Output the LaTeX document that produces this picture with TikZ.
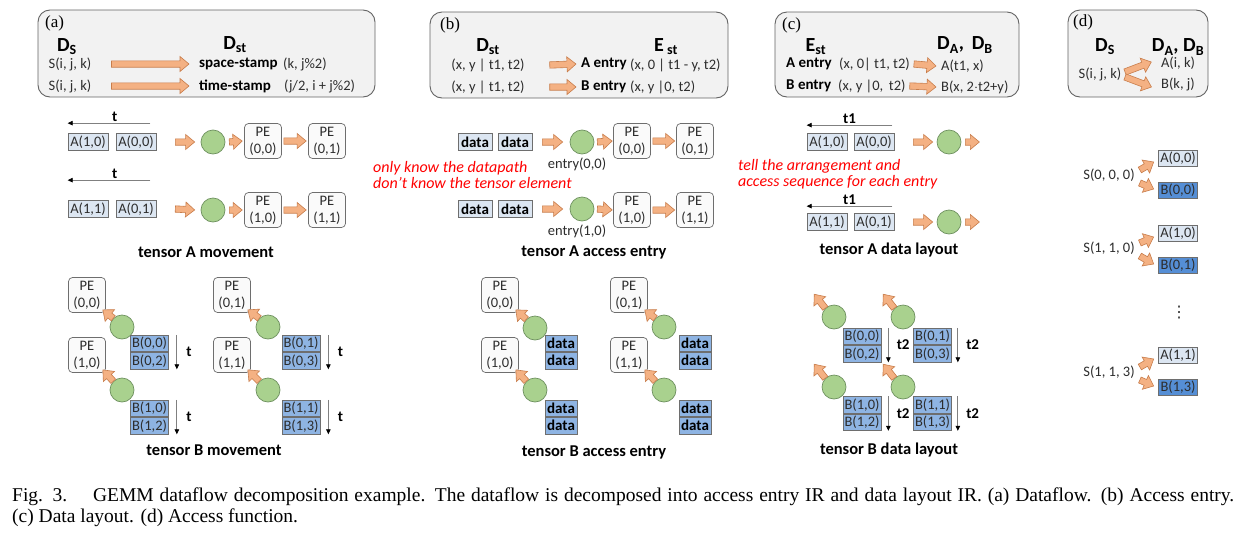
\documentclass[tikz,border=0pt]{standalone}
\usepackage{fontspec}
\setmainfont{Carlito}
\newfontfamily\seriffont{Liberation Serif}
\newfontfamily\symfont{DejaVu Sans}
\usetikzlibrary{positioning}
\usetikzlibrary{calc}
\usetikzlibrary{arrows.meta}

\definecolor{panelfill}{RGB}{242,242,242}
\definecolor{panelline}{RGB}{100,100,100}
\definecolor{boxline}{RGB}{110,110,110}
\definecolor{pefill}{RGB}{250,250,250}
\definecolor{lightA}{RGB}{220,230,242}
\definecolor{midB}{RGB}{142,180,227}
\definecolor{deepB}{RGB}{85,142,213}
\definecolor{greenfill}{RGB}{169,209,142}
\definecolor{greenline}{RGB}{110,145,95}
\definecolor{arrowfill}{RGB}{244,177,131}
\definecolor{arrowline}{RGB}{200,125,75}
\definecolor{textcol}{RGB}{45,45,45}
\definecolor{notered}{RGB}{255,0,0}

\newcommand\ftxt{\fontsize{14.5}{17}\selectfont}
\newcommand\fbld{\fontsize{15}{17}\selectfont\bfseries}
\newcommand\ftitle{\fontsize{16.5}{19}\selectfont\bfseries}
\newcommand\fhead{\fontsize{20}{22}\selectfont\bfseries}
\newcommand\fpanel{\seriffont\fontsize{17}{19}\selectfont}
\newcommand\fnote{\fontsize{16}{16.5}\selectfont\itshape}
\newcommand\fcap{\seriffont\fontsize{19.5}{21}\selectfont}

\tikzset{
  panel/.style={draw=panelline, fill=panelfill, rounded corners=12pt, line width=0.9pt},
  pe/.style={draw=boxline, fill=pefill, rounded corners=4pt, line width=0.7pt,
    minimum width=37pt, minimum height=35pt, inner sep=0pt, align=center, font=\ftxt, text=textcol},
  abox/.style={draw=boxline, fill=lightA, line width=0.7pt, minimum width=40pt,
    minimum height=17pt, inner sep=0pt, font=\ftxt, text=textcol},
  bbox/.style={abox, fill=midB, minimum width=38pt, minimum height=16.5pt},
  dabox/.style={abox, minimum width=39pt, minimum height=16pt},
  dbox/.style={dabox, fill=deepB},
  datab/.style={abox, minimum width=34pt, font=\fbld, text=black},
  datbb/.style={datab, fill=midB, minimum width=32pt, minimum height=16.5pt},
  circ/.style={circle, draw=greenline, fill=greenfill, line width=0.7pt, minimum size=24pt, inner sep=0pt},
  plabel/.style={anchor=west, inner sep=0pt, font=\fpanel, text=black},
  head/.style={inner sep=1pt, font=\fhead, text=black},
  lbl/.style={inner sep=1pt, font=\ftxt, text=textcol},
  lblw/.style={lbl, anchor=west},
  key/.style={lblw, font=\fbld, text=black},
  title/.style={inner sep=1pt, font=\ftitle, text=black},
  tlab/.style={inner sep=1pt, font=\fbld, text=black},
  note/.style={anchor=west, align=left, inner sep=0pt, font=\fnote, text=notered},
  capline/.style={anchor=west, inner sep=0pt, font=\fcap, text=black},
  tarrow/.style={draw=gray, line width=0.8pt, -{Triangle[length=5pt, width=4.5pt, color=black]}},
  fat/.style={draw=arrowline, fill=arrowfill, line width=0.6pt,
    to path={let \p1=(\tikztostart), \p2=(\tikztotarget),
      \n1={atan2(\y2-\y1,\x2-\x1)}, \n2={veclen(\x2-\x1,\y2-\y1)} in
      ([shift={(\p1)},rotate=\n1]0pt,-3.2pt) -- ([shift={(\p1)},rotate=\n1]\n2-9pt,-3.2pt)
      -- ([shift={(\p1)},rotate=\n1]\n2-9pt,-7.5pt) -- ([shift={(\p1)},rotate=\n1]\n2,0pt)
      -- ([shift={(\p1)},rotate=\n1]\n2-9pt,7.5pt) -- ([shift={(\p1)},rotate=\n1]\n2-9pt,3.2pt)
      -- ([shift={(\p1)},rotate=\n1]0pt,3.2pt) -- cycle}}
}

\begin{document}
\begin{tikzpicture}[x=1pt, y=-1pt]

            \useasboundingbox[fill=white] (0,0) rectangle (1254,544);

            % (a) dataflow
            \draw[panel] (38,10) rectangle (375,97);
            \path   (45,23) node (la) [plabel] {(a)}
                    (67,47) node (dsa) [head] {D\textsubscript{S}}
                    (235,45) node (dsta) [head] {D\textsubscript{st}}
                    (70,64) node (sa1) [lbl] {S(i, j, k)}
                    (70,86) node (sa2) [lbl] {S(i, j, k)}
                    (198,64) node (sps) [key] {space-stamp}
                    (282,64) node (spv) [lblw] {(k, j\%2)}
                    (198,86) node (tms) [key] {time-stamp}
                    (283,86) node (tmv) [lblw] {(j/2, i + j\%2)};

            \draw[fat] ([xshift=19]sa1.east) to ([xshift=-9]sps.west);
            \draw[fat] ([xshift=19]sa2.east) to ([xshift=-9]tms.west);

            \path   (88,142) node (a10) [abox] {A(1,0)}
                    (136,142) node (a00) [abox] {A(0,0)}
                    (213,142) node (ca1) [circ] {}
                    (263,141) node (pa00) [pe] {PE\\(0,0)}
                    (327,141) node (pa01) [pe] {PE\\(0,1)}
                    (88,209) node (a11) [abox] {A(1,1)}
                    (136,209) node (a01) [abox] {A(0,1)}
                    (213,210) node (ca2) [circ] {}
                    (263,210) node (pa10) [pe] {PE\\(1,0)}
                    (327,210) node (pa11) [pe] {PE\\(1,1)}
                    (206,252) node (ta) [title] {tensor A movement};

            \draw[tarrow] ([shift={(-6,-10)}]a00.north east) -- ([yshift=10]a10.north west) node[tlab, pos=0.43, above] {t};
            \draw[tarrow] ([shift={(-6,-20)}]a01.north east) -- ([yshift=20]a11.north west) node[tlab, pos=0.43, above] {t};
            \draw[fat] ([xshift=19]a00.east) to ([xshift=-6]ca1.west);
            \draw[fat] ([xshift=4]ca1.east) to ([xshift=-2]pa00.west);
            \draw[fat] ([xshift=2]pa00.east) to ([xshift=-2]pa01.west);
            \draw[fat] ([xshift=19]a01.east) to ([xshift=-6]ca2.west);
            \draw[fat] ([xshift=4]ca2.east) to ([xshift=-2]pa10.west);
            \draw[fat] ([xshift=2]pa10.east) to ([xshift=-2]pa11.west);

            \path   (87,295) node (pb00) [pe] {PE\\(0,0)}
                    (122,327) node (cb1) [circ] {}
                    (149.5,343.5) node (b00) [bbox] {B(0,0)}
                    (87,355) node (pb10) [pe] {PE\\(1,0)}
                    (122,390) node (cb2) [circ] {}
                    (149.5,408.5) node (b10) [bbox] {B(1,0)}
                    (232,295) node (pb01) [pe] {PE\\(0,1)}
                    (268,327) node (cb3) [circ] {}
                    (301,343.5) node (b01) [bbox] {B(0,1)}
                    (232,355) node (pb11) [pe] {PE\\(1,1)}
                    (268,390) node (cb4) [circ] {}
                    (301,408.5) node (b11) [bbox] {B(1,1)}
                    (214,450) node (tb) [title] {tensor B movement};
            \node (b02) [bbox, below=0pt of b00] {B(0,2)};
            \node (b12) [bbox, below=0pt of b10] {B(1,2)};
            \node (b03) [bbox, below=0pt of b01] {B(0,3)};
            \node (b13) [bbox, below=0pt of b11] {B(1,3)};

            \draw[fat] (cb1.north west) to ([shift={(-3,-3)}]pb00.south east);
            \draw[fat] (cb2.north west) to ([shift={(-3,-3)}]pb10.south east);
            \draw[fat] (cb3.north west) to ([shift={(-3,-3)}]pb01.south east);
            \draw[fat] (cb4.north west) to ([shift={(-3,-3)}]pb11.south east);
            \draw[tarrow] ([xshift=8]b00.north east) -- ([xshift=8]b02.south east) node[tlab, midway, right=8pt] {t};
            \draw[tarrow] ([xshift=8]b10.north east) -- ([xshift=8]b12.south east) node[tlab, midway, right=8pt] {t};
            \draw[tarrow] ([xshift=8]b01.north east) -- ([xshift=8]b03.south east) node[tlab, midway, right=8pt] {t};
            \draw[tarrow] ([xshift=8]b11.north east) -- ([xshift=8]b13.south east) node[tlab, midway, right=8pt] {t};

            % (b) access entry
            \draw[panel] (430,12) rectangle (728,98);
            \path   (440,25) node (lb) [plabel] {(b)}
                    (488,47) node (dstb) [head] {D\textsubscript{st}}
                    (666,47) node (estb) [head] {E\,\textsubscript{st}}
                    (488,65) node (rb1) [lbl] {(x, y | t1, t2)}
                    (488,87) node (rb2) [lbl] {(x, y | t1, t2)}
                    (580,64) node (aen) [key] {A entry}
                    (629,65) node (aev) [lblw] {(x, 0 | t1 - y, t2)}
                    (580,87) node (ben) [key] {B entry}
                    (629,87) node (bev) [lblw] {(x, y |0, t2)};

            \draw[fat] ([xshift=24]rb1.east) to ([xshift=-4]aen.west);
            \draw[fat] ([xshift=24]rb2.east) to ([xshift=-4]ben.west);

            \path   (475,142) node (d1) [datab] {data}
                    (515,142) node (d2) [datab] {data}
                    (582,142) node (ce1) [circ] {}
                    (632,141) node (pe00) [pe] {PE\\(0,0)}
                    (695,141) node (pe01) [pe] {PE\\(0,1)}
                    (475,209) node (d3) [datab] {data}
                    (515,209) node (d4) [datab] {data}
                    (582,209) node (ce2) [circ] {}
                    (632,210) node (pe10) [pe] {PE\\(1,0)}
                    (695,210) node (pe11) [pe] {PE\\(1,1)}
                    (373,175) node (nb) [note] {only know the datapath\\don’t know the tensor element}
                    (594,252) node (tab) [title] {tensor A access entry};
            \node (en1) [lbl, below=2pt of ce1, xshift=-5] {entry(0,0)};
            \node (en2) [lbl, below=2pt of ce2, xshift=-5] {entry(1,0)};

            \draw[fat] ([xshift=10]d2.east) to ([xshift=-7]ce1.west);
            \draw[fat] ([xshift=3]ce1.east) to ([xshift=-1]pe00.west);
            \draw[fat] ([xshift=2]pe00.east) to ([xshift=-1.5]pe01.west);
            \draw[fat] ([xshift=10]d4.east) to ([xshift=-7]ce2.west);
            \draw[fat] ([xshift=3]ce2.east) to ([xshift=-1]pe10.west);
            \draw[fat] ([xshift=2]pe10.east) to ([xshift=-1.5]pe11.west);

            \path   (500,295) node (pq00) [pe] {PE\\(0,0)}
                    (535,328) node (cq1) [circ] {}
                    (561,343.5) node (dq1) [datbb] {data}
                    (500,355) node (pq10) [pe] {PE\\(1,0)}
                    (535,390) node (cq2) [circ] {}
                    (561,408.5) node (dq3) [datbb] {data}
                    (629,295) node (pq01) [pe] {PE\\(0,1)}
                    (664,327) node (cq3) [circ] {}
                    (695,343.5) node (dq5) [datbb] {data}
                    (629,355) node (pq11) [pe] {PE\\(1,1)}
                    (664,390) node (cq4) [circ] {}
                    (695,408.5) node (dq7) [datbb] {data}
                    (594,452) node (tbb) [title] {tensor B access entry};
            \node (dq2) [datbb, below=0pt of dq1] {data};
            \node (dq4) [datbb, below=0pt of dq3] {data};
            \node (dq6) [datbb, below=0pt of dq5] {data};
            \node (dq8) [datbb, below=0pt of dq7] {data};

            \draw[fat] (cq1.north west) to ([shift={(-3,-3)}]pq00.south east);
            \draw[fat] (cq2.north west) to ([shift={(-3,-3)}]pq10.south east);
            \draw[fat] (cq3.north west) to ([shift={(-3,-3)}]pq01.south east);
            \draw[fat] (cq4.north west) to ([shift={(-3,-3)}]pq11.south east);

            % (c) data layout
            \draw[panel] (775,12) rectangle (1019,97);
            \path   (782,25) node (lc) [plabel] {(c)}
                    (816,47) node (estc) [head] {E\textsubscript{st}}
                    (965,45) node (dabc) [head] {D\textsubscript{A},\, D\textsubscript{B}}
                    (785,64) node (cae) [key] {A entry}
                    (838,64) node (cav) [lblw] {(x, 0| t1, t2)}
                    (940,66) node (car) [lblw] {A(t1, x)}
                    (785,86) node (cbe) [key] {B entry}
                    (837,86) node (cbv) [lblw] {(x, y |0,\, t2)}
                    (940,87) node (cbr) [lblw] {B(x, 2$\cdot$t2+y)};

            \draw[fat] ([xshift=3]cav.east) to ([xshift=-4]car.west);
            \draw[fat] ([xshift=3]cbv.east) to ([xshift=-4]cbr.west);

            \path   (827,142) node (ca10) [abox] {A(1,0)}
                    (874,142) node (ca00) [abox] {A(0,0)}
                    (949,142) node (cc1) [circ] {}
                    (827,222) node (ca11) [abox] {A(1,1)}
                    (874,222) node (ca01) [abox] {A(0,1)}
                    (949,222) node (cc2) [circ] {}
                    (738,174) node (nc) [note] {tell the arrangement and\\access sequence for each entry}
                    (889,250) node (tac) [title] {tensor A data layout};
            \coordinate (o1) at ([xshift=18]cc1.east);
            \coordinate (o2) at ([xshift=18]cc2.east);

            \draw[tarrow] ([shift={(-2,-8)}]ca00.north east) -- ([yshift=8]ca10.north west) node[tlab, midway, above] {t1};
            \draw[tarrow] ([shift={(-2,-7)}]ca01.north east) -- ([yshift=7]ca11.north west) node[tlab, midway, above] {t1};
            \draw[fat] ([xshift=19]ca00.east) to ([xshift=-4]cc1.west);
            \draw[fat] ([xshift=4]cc1.east) to (o1);
            \draw[fat] ([xshift=19]ca01.east) to ([xshift=-4]cc2.west);
            \draw[fat] ([xshift=4]cc2.east) to (o2);

            \path   (834,317) node (cd1) [circ] {}
                    (862,336.5) node (bl00) [bbox] {B(0,0)}
                    (903,317) node (cd2) [circ] {}
                    (932.5,336.5) node (bl01) [bbox] {B(0,1)}
                    (834,387) node (cd3) [circ] {}
                    (862,405) node (bl10) [bbox] {B(1,0)}
                    (903,387) node (cd4) [circ] {}
                    (932.5,405) node (bl11) [bbox] {B(1,1)}
                    (889,450) node (tbc) [title] {tensor B data layout};
            \node (bl02) [bbox, below=0pt of bl00] {B(0,2)};
            \node (bl03) [bbox, below=0pt of bl01] {B(0,3)};
            \node (bl12) [bbox, below=0pt of bl10] {B(1,2)};
            \node (bl13) [bbox, below=0pt of bl11] {B(1,3)};
            \coordinate (u1) at ([shift={(-11,-14)}]cd1.north west);
            \coordinate (u2) at ([shift={(-11,-14)}]cd2.north west);
            \coordinate (u3) at ([shift={(-11,-14)}]cd3.north west);
            \coordinate (u4) at ([shift={(-11,-14)}]cd4.north west);

            \draw[fat] (cd1.north west) to (u1);
            \draw[fat] (cd2.north west) to (u2);
            \draw[fat] (cd3.north west) to (u3);
            \draw[fat] (cd4.north west) to (u4);
            \draw[tarrow] ([xshift=7]bl00.north east) -- ([xshift=7]bl02.south east) node[tlab, midway, right=7pt] {t2};
            \draw[tarrow] ([xshift=6]bl01.north east) -- ([xshift=6]bl03.south east) node[tlab, midway, right=7pt] {t2};
            \draw[tarrow] ([xshift=7]bl10.north east) -- ([xshift=7]bl12.south east) node[tlab, midway, right=7pt] {t2};
            \draw[tarrow] ([xshift=6]bl11.north east) -- ([xshift=6]bl13.south east) node[tlab, midway, right=7pt] {t2};

            % (d) access function
            \draw[panel] (1068,10) rectangle (1208,97);
            \path   (1073,22) node (ld) [plabel] {(d)}
                    (1105,47) node (dsd) [head] {D\textsubscript{S}}
                    (1178,47) node (dabd) [head] {D\textsubscript{A}, D\textsubscript{B}}
                    (1100,74) node (sijk) [lbl] {S(i, j, k)}
                    (1178,63) node (aik) [lbl] {A(i, k)}
                    (1178,84) node (bkj) [lbl] {B(k, j)};

            \draw[fat] ([shift={(2.5,-2)}]sijk.east) to ([shift={(-8.5,-1)}]aik.west);
            \draw[fat] ([shift={(2.5,3)}]sijk.east) to ([shift={(-8.5,3)}]bkj.west);

            \path   (1109,175) node (s000) [lbl] {S(0, 0, 0)}
                    (1178,158) node (da00) [dabox] {A(0,0)}
                    (1178,190) node (db00) [dbox] {B(0,0)}
                    (1109,248) node (s110) [lbl] {S(1, 1, 0)}
                    (1178,233) node (da10) [dabox] {A(1,0)}
                    (1178,265) node (db01) [dbox] {B(0,1)}
                    (1179,313) node (vd) [lbl, font=\symfont\fontsize{16}{16}\selectfont] {⋮}
                    (1109,372) node (s113) [lbl] {S(1, 1, 3)}
                    (1178,355) node (da11) [dabox] {A(1,1)}
                    (1178,387) node (db13) [dbox] {B(1,3)};

            \draw[fat] ([shift={(4,-5)}]s000.east) to ([shift={(-4.5,4)}]da00.west);
            \draw[fat] ([shift={(4,8)}]s000.east) to ([shift={(-4.5,-1)}]db00.west);
            \draw[fat] ([shift={(4,-5)}]s110.east) to ([shift={(-4.5,4)}]da10.west);
            \draw[fat] ([shift={(4,8)}]s110.east) to ([shift={(-4.5,-1)}]db01.west);
            \draw[fat] ([shift={(4,-5)}]s113.east) to ([shift={(-4.5,4)}]da11.west);
            \draw[fat] ([shift={(4,8)}]s113.east) to ([shift={(-4.5,-1)}]db13.west);

            % caption
            \path   (12,497) node (cap1) [capline] {\makebox[1222pt][s]{Fig. 3.\hspace{26pt}GEMM dataflow decomposition example. The dataflow is decomposed into access entry IR and data layout IR. (a) Dataflow. (b) Access entry.}}
                    (12,518) node (cap2) [capline] {(c) Data layout. (d) Access function.};

\end{tikzpicture}
\end{document}
